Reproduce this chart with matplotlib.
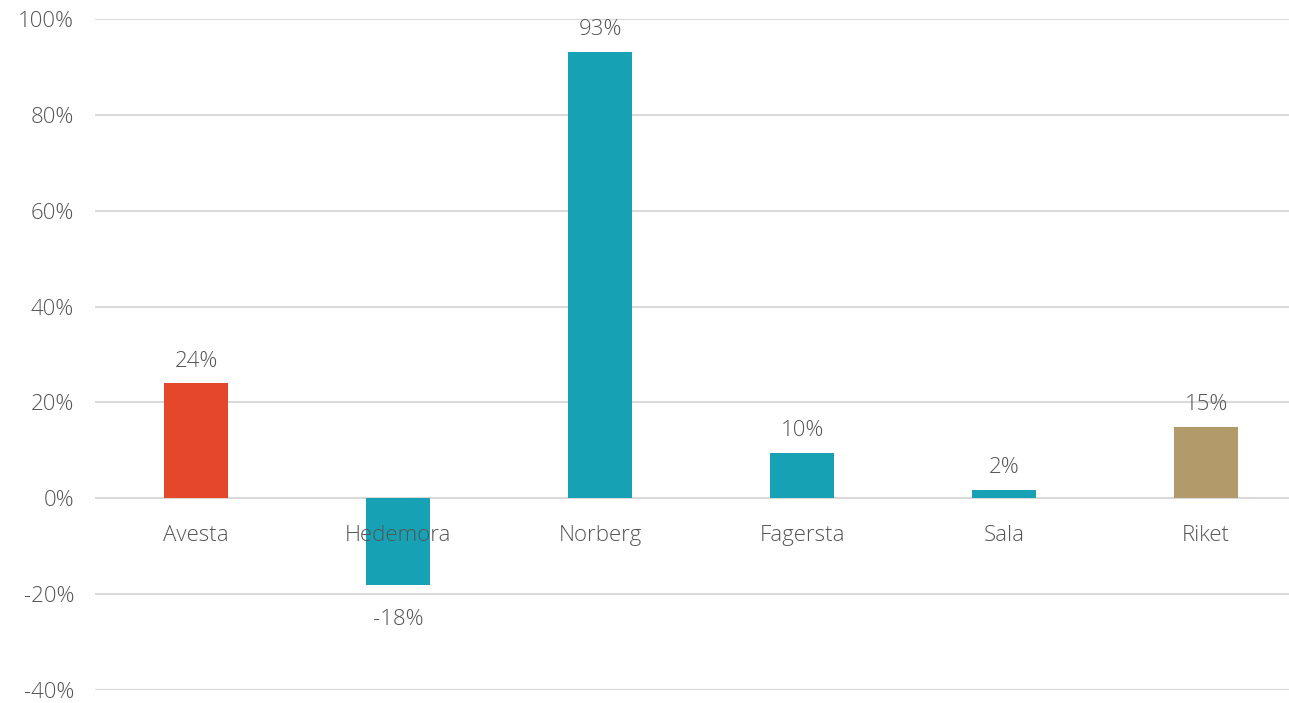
import matplotlib.pyplot as plt
from matplotlib.ticker import FuncFormatter

CATEGORIES = ["Avesta", "Hedemora", "Norberg", "Fagersta", "Sala", "Riket"]
VALUES = [24.0, -18.1, 93.1, 9.5, 1.8, 14.9]
LABELS = ["24%", "-18%", "93%", "10%", "2%", "15%"]
COLORS = ["#E5472B", "#16A1B5", "#16A1B5", "#16A1B5", "#16A1B5", "#B39A6A"]
YTICKS = [-40, -20, 0, 20, 40, 60, 80, 100]

plt.rcParams["font.family"] = ["Open Sans", "DejaVu Sans"]
plt.rcParams["font.weight"] = "light"

TEXT = "#555555"
GRID = "#D9D9D9"


def main():
    fig = plt.figure(figsize=(12.89, 7.03), dpi=100)
    ax = fig.add_axes([0.0737, 0.0185, 0.9263, 0.9545])

    x = list(range(len(CATEGORIES)))
    ax.bar(x, VALUES, width=0.317, color=COLORS, zorder=3)

    ax.set_ylim(-40, 100)
    # plot area is cut at the right edge, categories spaced ~202px
    ax.set_xlim(-0.5, 5.41)
    ax.set_yticks(YTICKS)
    ax.yaxis.set_major_formatter(FuncFormatter(lambda v, _: f"{int(v)}%"))
    ax.tick_params(axis="y", length=0, pad=15, labelsize=16, labelcolor=TEXT)
    ax.set_xticks([])
    ax.grid(axis="y", color=GRID, linewidth=1.5, zorder=0)
    for s in ax.spines.values():
        s.set_visible(False)

    for xi, cat in zip(x, CATEGORIES):
        ax.annotate(cat, (xi, 0), xytext=(0, -27), textcoords="offset points",
                    ha="center", va="center", fontsize=16, color=TEXT, zorder=4)

    for xi, v, lab in zip(x, VALUES, LABELS):
        off = 16 if v >= 0 else -25
        ax.annotate(lab, (xi, v), xytext=(0, off), textcoords="offset points",
                    ha="center", va="center", fontsize=16, color=TEXT, zorder=4)

    fig.savefig("out.png", dpi=100)
    plt.close(fig)


if __name__ == "__main__":
    main()
